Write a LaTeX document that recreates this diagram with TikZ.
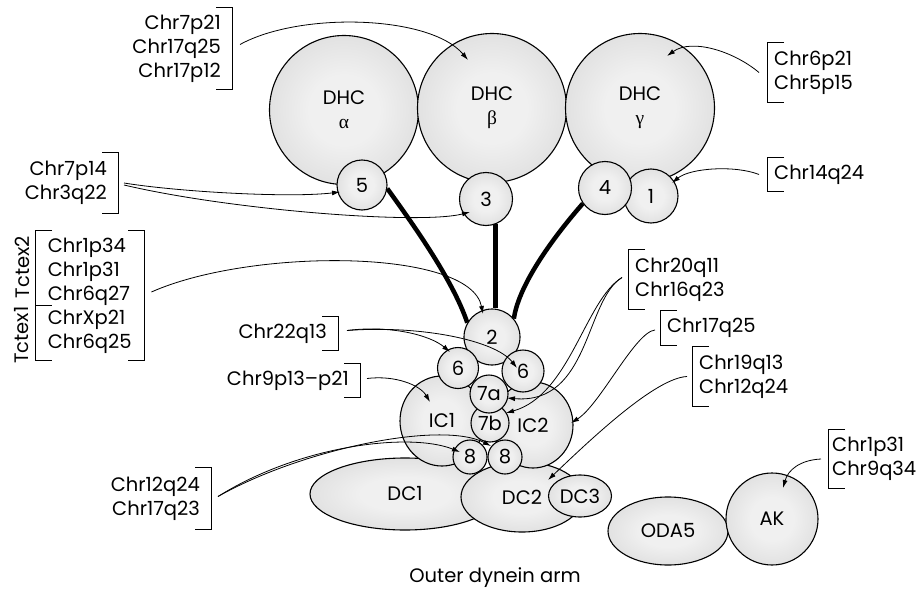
\documentclass[tikz,border=0pt]{standalone}
\usepackage{fontspec}
\setmainfont{Poppins}
\newfontfamily\greekfont{Liberation Serif}
\usetikzlibrary{arrows.meta, shapes.geometric}
\definecolor{blobin}{gray}{0.94}
\definecolor{blobout}{gray}{0.78}
\pgfdeclareradialshading{blobshade}{\pgfpointorigin}{color(0bp)=(blobin); color(12bp)=(blobin); color(50bp)=(blobout)}
\newcommand{\brR}[1]{\draw[brk] ([xshift=-16pt]#1.north east) -- (#1.north east) -- (#1.south east) -- ([xshift=-16pt]#1.south east);}
\newcommand{\brL}[1]{\draw[brk] ([xshift=17pt]#1.north west) -- (#1.north west) -- (#1.south west) -- ([xshift=17pt]#1.south west);}
\tikzset{
  part/.style = {draw, line width=1.1pt, circle, inner sep=0pt, shading=blobshade, font=\fontsize{19.5}{24}\selectfont, align=center},
  oval/.style = {part, ellipse},
  chrlab/.style = {font=\fontsize{19.5}{24}\selectfont, inner ysep=0pt},
  rlab/.style = {chrlab, anchor=east, align=right, inner xsep=11pt},
  llab/.style = {chrlab, anchor=west, align=left, inner xsep=7pt},
  brk/.style = {line width=0.9pt},
  link/.style = {line width=0.8pt, -{Latex[length=8pt,width=5pt]}},
  stalk/.style = {line width=4.5pt}
}

\begin{document}
\begin{tikzpicture}[x=1pt, y=-1pt]
\useasboundingbox (0,0) rectangle (918,594);
% heavy chains
\node[part, minimum size=149] (dhca) at (344,110) {DHC\\{\greekfont α}};
\node[part, minimum size=149] (dhcb) at (492,108) {DHC\\{\greekfont β}};
\node[part, minimum size=149] (dhcg) at (640,108) {DHC\\{\greekfont γ}};
\node[part, minimum size=50] (n5) at (362,185) {5};
\node[part, minimum size=53] (n3) at (486,199) {3};
\node[part, minimum size=54] (n1) at (651,196) {1};
\node[part, minimum size=53] (n4) at (605,188) {4};
% docking complex
\node[oval, minimum width=190, minimum height=72] (dc1) at (405,494) {DC1};
\node[oval, minimum width=122, minimum height=70] (dc2) at (522,497) {DC2};
\node[oval, minimum width=63, minimum height=42] (dc3) at (580,496) {DC3};
\node[oval, minimum width=120, minimum height=68] (oda5) at (668,531) {ODA5};
\node[part, minimum size=92] (ak) at (772,519) {AK};
% intermediate chains and light chains
\node[oval, minimum width=84, minimum height=90] (ic1) at (442,421) {IC1};
\node[oval, minimum width=80, minimum height=86] (ic2) at (533,425) {IC2};
\node[part, minimum size=56] (n2) at (492,337) {2};
\node[part, minimum size=41] (n6l) at (458,368) {6};
\node[part, minimum size=42] (n6r) at (523,371) {6};
\node[part, minimum size=38] (n7b) at (490,423) {7b};
\node[part, minimum size=38] (n7a) at (489,394) {7a};
\node[part, minimum size=34] (n8l) at (470,457) {8};
\node[part, minimum size=34] (n8r) at (505,457) {8};
\draw[stalk] (n5.-8) .. controls +(20,28) and +(-15,-45) .. (n2.150);
\draw[stalk] (n3.-70) -- (n3.-70 |- n2.north);
\draw[stalk] (n4.-145) .. controls +(-28,32) and +(5,-35) .. (n2.40);
% chromosome labels
\node[rlab, minimum height=81] (l7p21) at (232,48.5) {Chr7p21\\Chr17q25\\Chr17p12};
\node[llab, minimum height=59] (l6p21) at (767,72.5) {Chr6p21\\Chr5p15};
\node[llab, minimum height=33] (l14q24) at (767,174.5) {Chr14q24};
\node[rlab, minimum height=60] (l7p14) at (118,183) {Chr7p14\\Chr3q22};
\node[chrlab, anchor=west, align=left, minimum width=109, minimum height=129] (tctex) at (35,295.5) {Chr1p34\\Chr1p31\\Chr6q27\\ChrXp21\\Chr6q25};
\node[chrlab, rotate=90] (tctex2) at (22,267) {Tctex2};
\node[chrlab, rotate=90] (tctex1) at (22,335) {Tctex1};
\node[rlab, minimum height=33] (l22q13) at (338,333.5) {Chr22q13};
\node[rlab, minimum height=33] (l9p13) at (360,380.5) {Chr9p13–p21};
\node[rlab, minimum height=61] (l12q24) at (211,498.5) {Chr12q24\\Chr17q23};
\node[llab, minimum height=59] (l20q11) at (628,279.5) {Chr20q11\\Chr16q23};
\node[llab, minimum height=34] (l17q25) at (660,328) {Chr17q25};
\node[llab, minimum height=59] (l19q13) at (692,376.5) {Chr19q13\\Chr12q24};
\node[llab, minimum height=58, inner xsep=4pt] (l1p31) at (828,459) {Chr1p31\\Chr9q34};
\node[chrlab] (caption) at (495,578) {Outer dynein arm};
\brR{l7p21} \brR{l7p14} \brR{l22q13} \brR{l9p13} \brR{l12q24} \brR{tctex}
\brL{l6p21} \brL{l14q24} \brL{l20q11} \brL{l17q25} \brL{l19q13} \brL{l1p31} \brL{tctex}
\draw[brk] ([yshift=-9.5pt]tctex.west) -- ++(17,0);
\draw[link] ([xshift=8pt,yshift=4pt]l7p21.east) .. controls +(60,-33) and +(-38,-45) .. ([shift={(-24,-48)}]dhcb.center);
\draw[link] ([xshift=-8pt]l6p21.west) .. controls +(-25,-21) and +(25,-18) .. ([shift={(27,-52)}]dhcg.center);
\draw[link] ([xshift=-8pt]l14q24.west) .. controls +(-24,-9.5) and +(18,-15) .. ([shift={(21,-13)}]n1.center);
\draw[link] ([xshift=6pt]l7p14.east) .. controls +(56,9) and +(-50,6) .. ([shift={(-22,7)}]n5.center);
\draw[link] ([xshift=6pt,yshift=-2pt]l7p14.east) .. controls +(106,25) and +(-50,13) .. ([shift={(-16,13)}]n3.center);
\draw[link] ([xshift=7pt,yshift=3.5pt]tctex.east) .. controls +(99,-44) and +(-13,-66) .. ([shift={(-9,-23)}]n2.center);
\draw[link] ([xshift=9pt,yshift=3pt]l22q13.east) .. controls +(43,-5.5) and +(-20,-17) .. ([shift={(-8,-16)}]n6l.center);
\draw[link] ([xshift=9pt,yshift=3pt]l22q13.east) .. controls +(73,-5.5) and +(-22,-28) .. ([shift={(-6,-3)}]n6r.center);
\draw[link] ([xshift=7pt,yshift=2pt]l9p13.east) .. controls +(28,-3.5) and +(-10,-17) .. ([shift={(-12,-19)}]ic1.center);
\draw[link] ([xshift=7pt,yshift=2pt]l12q24.east) .. controls +(82,-46.5) and +(-51,-26) .. ([shift={(-14,-11)}]n8r.center);
\draw[link] ([xshift=7pt,yshift=2pt]l12q24.east) .. controls +(82,-51.5) and +(-50,-20) .. ([shift={(-10,-5)}]n8l.center);
\draw[link] ([xshift=-6pt,yshift=2pt]l20q11.west) .. controls +(-37,22.5) and +(83,7) .. ([shift={(18,4)}]n7a.center);
\draw[link] ([xshift=-6pt,yshift=2pt]l20q11.west) .. controls +(-37,22.5) and +(64,-18) .. ([shift={(16,-10)}]n7b.center);
\draw[link] ([xshift=-5pt,yshift=-2pt]l17q25.west) .. controls +(-20,2) and +(29,-18) .. ([shift={(38,-2)}]ic2.center);
\draw[link] ([xshift=-5pt]l19q13.west) .. controls +(-32,1.5) and +(42,-40) .. ([shift={(26,-17)}]dc2.center);
\draw[link] ([xshift=-7pt]l1p31.west) .. controls +(-21,1) and +(5,-18) .. ([shift={(11,-31)}]ak.center);
\end{tikzpicture}
\end{document}
